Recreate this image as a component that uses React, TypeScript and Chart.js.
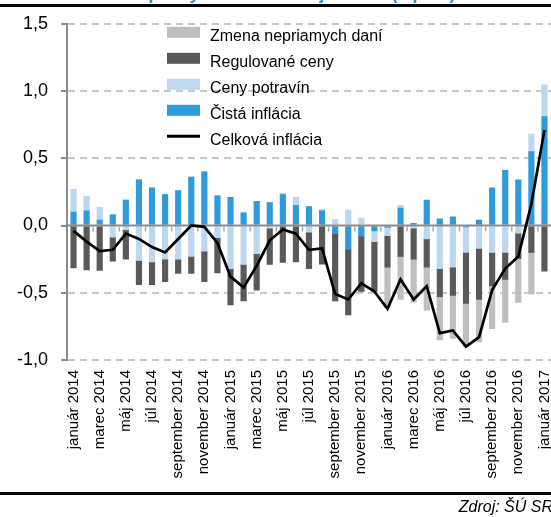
import React, { useEffect, useRef } from 'react';
import { Chart, registerables } from 'chart.js';

Chart.register(...registerables);

const categories = [
  'január 2014', 'február 2014', 'marec 2014', 'apríl 2014', 'máj 2014', 'jún 2014',
  'júl 2014', 'august 2014', 'september 2014', 'október 2014', 'november 2014', 'december 2014',
  'január 2015', 'február 2015', 'marec 2015', 'apríl 2015', 'máj 2015', 'jún 2015',
  'júl 2015', 'august 2015', 'september 2015', 'október 2015', 'november 2015', 'december 2015',
  'január 2016', 'február 2016', 'marec 2016', 'apríl 2016', 'máj 2016', 'jún 2016',
  'júl 2016', 'august 2016', 'september 2016', 'október 2016', 'november 2016', 'december 2016',
  'január 2017',
];

const cistaInflacia = [
  0.10, 0.11, 0.04, 0.08, 0.19, 0.34, 0.28, 0.23, 0.26, 0.36, 0.40, 0.22,
  0.21, 0.095, 0.18, 0.17, 0.23, 0.15, 0.14, 0.11, -0.06, -0.175, -0.08, -0.04,
  -0.015, 0.13, 0.016, 0.19, 0.05, 0.065, -0.01, 0.04, 0.28, 0.41, 0.34, 0.55,
  0.81,
];

const cenyPotravin = [
  0.17, 0.107, 0.093, -0.086, -0.03, -0.26, -0.27, -0.25, -0.25, -0.23, -0.19, -0.09,
  -0.32, -0.29, -0.21, -0.02, 0.01, 0.06, -0.05, 0.01, 0.046, 0.115, 0.055, -0.08,
  -0.06, 0.02, -0.02, -0.10, -0.32, -0.31, -0.19, -0.17, -0.20, -0.20, -0.057, 0.13,
  0.235,
];

const regulovaneCeny = [
  -0.315, -0.33, -0.333, -0.18, -0.22, -0.18, -0.17, -0.167, -0.106, -0.126, -0.227, -0.263,
  -0.27, -0.27, -0.27, -0.27, -0.275, -0.27, -0.27, -0.287, -0.50, -0.49, -0.41, -0.37,
  -0.235, -0.23, -0.23, -0.21, -0.21, -0.21, -0.38, -0.38, -0.25, -0.20, -0.19, -0.20,
  -0.34,
];

const zmenaDani = [
  0, 0, 0, 0, 0, 0, 0, 0, 0, 0, 0, 0,
  0, 0, 0, 0, 0, 0, 0, 0, 0, 0, 0, 0,
  -0.30, -0.32, -0.32, -0.32, -0.32, -0.32, -0.32, -0.315, -0.317, -0.32, -0.325, -0.31,
  0,
];

const celkovaInflacia = [
  -0.04, -0.12, -0.19, -0.18, -0.06, -0.10, -0.16, -0.20, -0.10, 0.00, -0.01, -0.13,
  -0.38, -0.46, -0.30, -0.11, -0.03, -0.06, -0.18, -0.17, -0.51, -0.55, -0.43, -0.49,
  -0.62, -0.40, -0.55, -0.45, -0.80, -0.78, -0.90, -0.83, -0.48, -0.32, -0.23, 0.16,
  0.71,
];

const yMin = -1.0;
const yMax = 1.5;
const yStep = 0.5;

const legendOrder = ['Zmena nepriamych daní', 'Regulované ceny', 'Ceny potravín', 'Čistá inflácia', 'Celková inflácia'];
const titleText = 'Príspevky k medziročnej inflácii (v p. b.)';
const sourceText = 'Zdroj: ŠÚ SR';

const FONT = "'Liberation Sans', Arial, Helvetica, sans-serif";
const W = 551;
const H = 517;

export default function App() {
  const ref = useRef<HTMLCanvasElement | null>(null);

  useEffect(() => {
    const canvas = ref.current;
    if (!canvas) return;

    const decor = {
      id: 'decor',
      afterDatasetDraw(chart: any, args: any) {
        if (args.index !== 0) return;
        const { ctx, chartArea, scales } = chart;
        const y0 = scales.y.getPixelForValue(0);
        ctx.save();
        ctx.strokeStyle = '#8c8c8c';
        ctx.lineWidth = 2;
        ctx.beginPath();
        ctx.moveTo(chartArea.left, y0);
        ctx.lineTo(chartArea.right, y0);
        ctx.stroke();
        ctx.strokeStyle = '#a8a8a8';
        ctx.lineWidth = 1.5;
        const n = chart.data.labels.length;
        for (let k = 2; k < n; k += 2) {
          const x = (scales.x.getPixelForValue(k - 1) + scales.x.getPixelForValue(k)) / 2;
          ctx.beginPath();
          ctx.moveTo(x, y0 + 1);
          ctx.lineTo(x, y0 + 6);
          ctx.stroke();
        }
        ctx.restore();
      },
      afterDraw(chart: any) {
        const { ctx, chartArea } = chart;
        ctx.save();
        // title (cut off at the top of the picture)
        ctx.fillStyle = '#1f8fd8';
        ctx.font = `bold 18px ${FONT}`;
        ctx.textAlign = 'center';
        ctx.textBaseline = 'alphabetic';
        ctx.fillText(titleText, 285, -1);
        // top and bottom rules
        ctx.fillStyle = '#000';
        ctx.fillRect(0, 4, W, 3);
        ctx.fillRect(0, 492, W, 3);
        // source
        ctx.font = `italic 16px ${FONT}`;
        ctx.textAlign = 'right';
        ctx.fillText(sourceText, 553, 512);
        // legend
        const lx = chartArea.left + 100;
        legendOrder.forEach((label, i) => {
          const ds = chart.data.datasets.find((d: any) => d.label === label);
          const cy = 32.3 + 26 * i;
          if (ds.type === 'line') {
            ctx.strokeStyle = ds.borderColor;
            ctx.lineWidth = 3;
            ctx.beginPath();
            ctx.moveTo(lx, cy);
            ctx.lineTo(lx + 33, cy);
            ctx.stroke();
          } else {
            ctx.fillStyle = ds.backgroundColor;
            ctx.fillRect(lx, cy - 5.5, 33, 11);
          }
          ctx.fillStyle = '#000';
          ctx.font = `16px ${FONT}`;
          ctx.textAlign = 'left';
          ctx.textBaseline = 'alphabetic';
          ctx.fillText(label, lx + 43, cy + 9);
        });
        ctx.restore();
      },
    };

    const barCommon = {
      type: 'bar' as const,
      stack: 'parts',
      order: 1,
      barThickness: 5.5,
      borderWidth: 0,
    };

    const chart = new Chart(canvas, {
      type: 'bar',
      data: {
        labels: categories,
        datasets: [
          { ...barCommon, label: 'Čistá inflácia', data: cistaInflacia, backgroundColor: '#2e9bdc' },
          { ...barCommon, label: 'Ceny potravín', data: cenyPotravin, backgroundColor: '#bdd7ee' },
          { ...barCommon, label: 'Regulované ceny', data: regulovaneCeny, backgroundColor: '#595959' },
          { ...barCommon, label: 'Zmena nepriamych daní', data: zmenaDani, backgroundColor: '#bfbfbf' },
          {
            type: 'line' as const,
            label: 'Celková inflácia',
            data: celkovaInflacia,
            stack: 'total',
            order: 0,
            borderColor: '#000000',
            backgroundColor: '#000000',
            borderWidth: 2.7,
            pointRadius: 0,
            tension: 0,
            fill: false,
          },
        ] as any,
      },
      options: {
        responsive: false,
        animation: false,
        devicePixelRatio: 1,
        layout: { padding: { top: 23, left: 0, right: 0, bottom: 0 } },
        plugins: {
          legend: { display: false },
          tooltip: { enabled: false },
          title: { display: false },
        },
        scales: {
          x: {
            stacked: true,
            offset: true,
            grid: { display: false, drawTicks: false },
            border: { display: false },
            ticks: {
              autoSkip: false,
              maxRotation: 90,
              minRotation: 90,
              padding: 10,
              color: '#000',
              font: { family: FONT, size: 15 },
              callback: (_v: any, i: number) => (i % 2 === 0 ? categories[i] : ''),
            },
            afterFit: (scale: any) => {
              scale.height = 157;
              scale.paddingLeft = 0;
              scale.paddingRight = 0;
            },
          },
          y: {
            stacked: true,
            min: yMin,
            max: yMax,
            grid: {
              color: (c: any) => (c.tick && Math.abs(c.tick.value) < 1e-9 ? 'rgba(0,0,0,0)' : '#c8c8c8'),
              lineWidth: 2,
              drawTicks: true,
              tickLength: 6,
              tickColor: '#8c8c8c',
              tickWidth: 2,
            },
            border: { display: true, color: '#8c8c8c', width: 2, dash: [7, 5] },
            ticks: {
              stepSize: yStep,
              padding: 13,
              color: '#000',
              font: { family: FONT, size: 18 },
              callback: (v: any) => Number(v).toFixed(1).replace('.', ','),
            },
            afterFit: (scale: any) => {
              scale.width = 67;
            },
          },
        },
      },
      plugins: [decor],
    } as any);

    return () => chart.destroy();
  }, []);

  return (
    <div style={{ position: 'absolute', left: 0, top: 0, width: W, height: H, background: '#fff' }}>
      <canvas ref={ref} width={W} height={H} style={{ display: 'block', width: W, height: H }} />
    </div>
  );
}
